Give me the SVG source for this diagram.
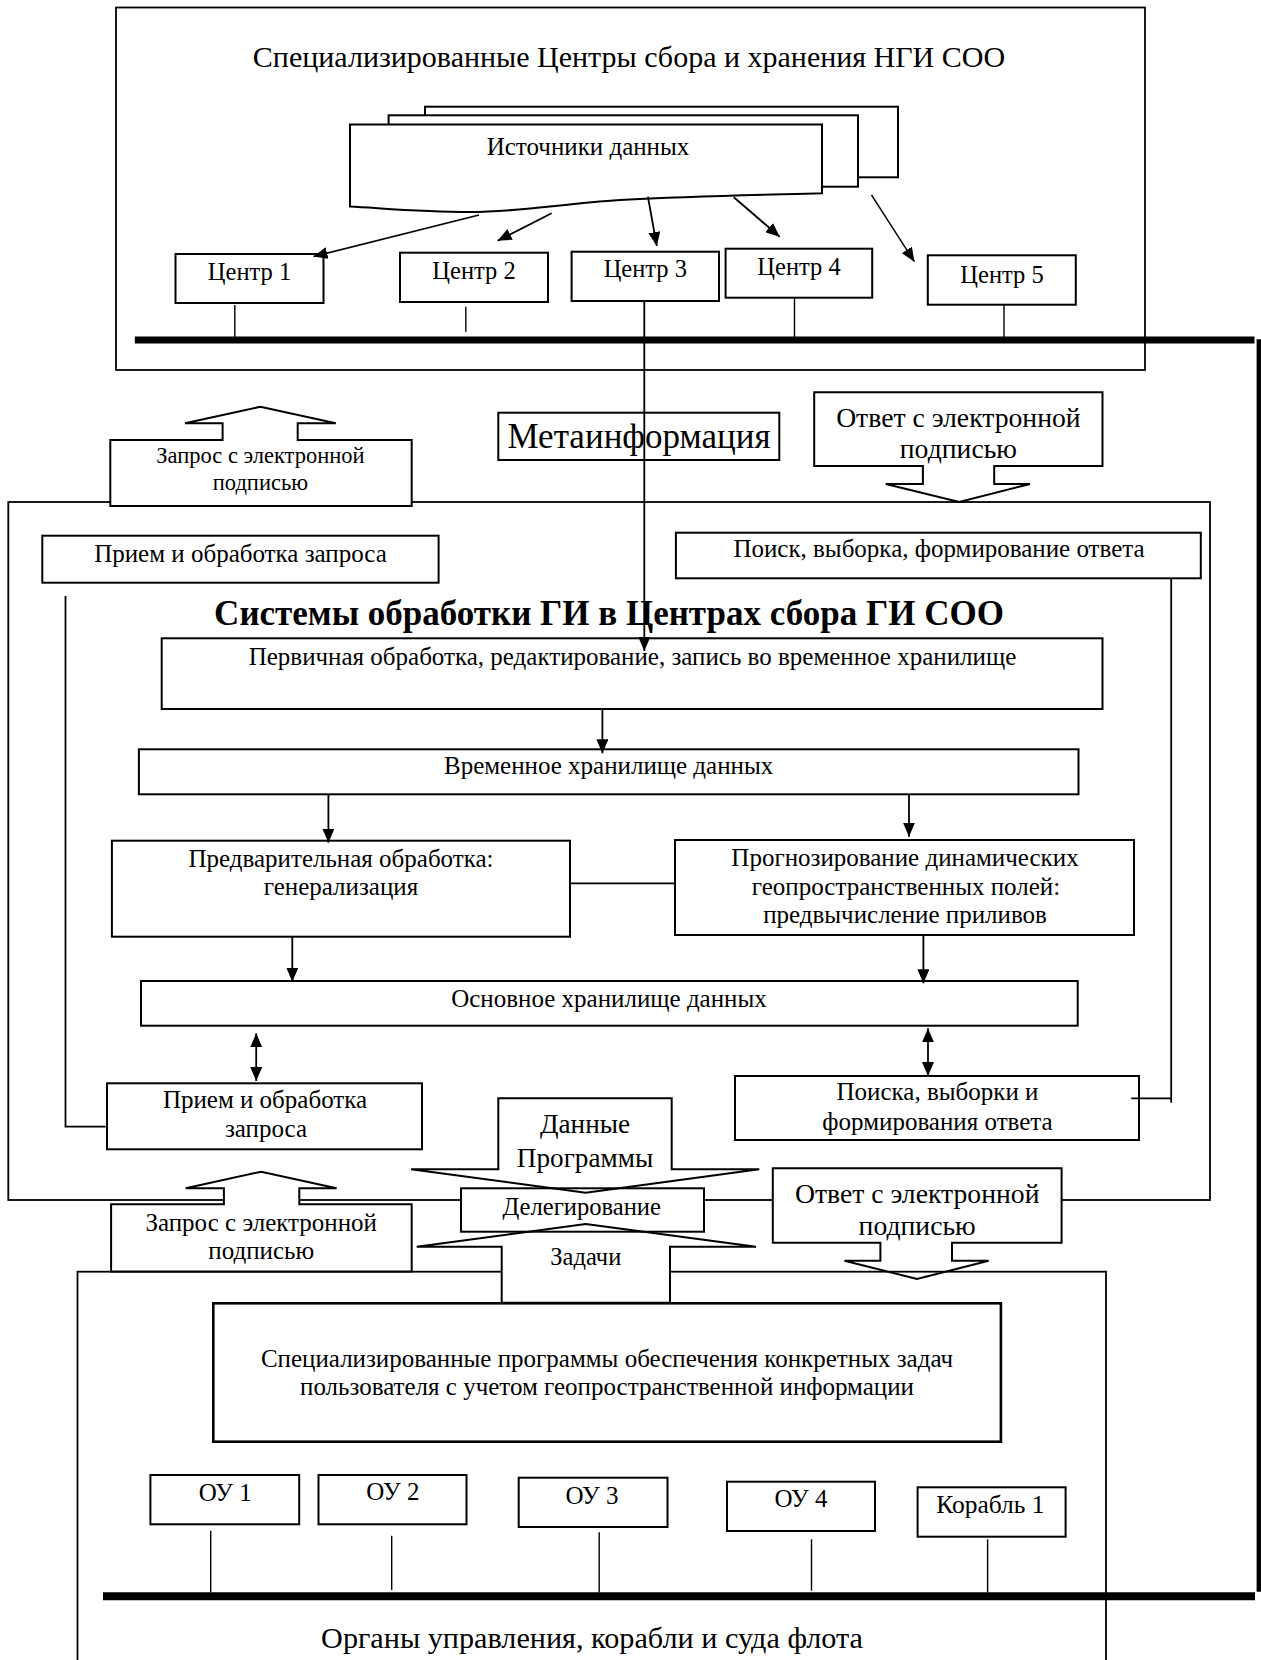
<svg xmlns="http://www.w3.org/2000/svg" width="1261" height="1660" viewBox="0 0 1261 1660">
<style>
text{font-family:"Liberation Serif","Times New Roman",serif;fill:#000;text-anchor:middle}
.box{fill:#fff;stroke:#000;stroke-width:2}
.frame{fill:none;stroke:#000;stroke-width:1.8}
.shape{fill:#fff;stroke:#000;stroke-width:2;stroke-linejoin:miter}
.fillonly{fill:#fff;stroke:none}
.outline{fill:none;stroke:#000;stroke-width:2}
.ln{fill:none;stroke:#000;stroke-width:1.8}
.thin{fill:none;stroke:#000;stroke-width:1.4}
.bus{stroke:#000;fill:none}
.arr{marker-end:url(#ah)}
.dbl{marker-start:url(#ah);marker-end:url(#ah)}
.s25{font-size:25px}
.s24{font-size:24.5px}
.s27{font-size:27.7px}
.s30{font-size:30.2px}
</style>
<defs>
<marker id="ah" markerUnits="userSpaceOnUse" viewBox="0 0 14 12" refX="14" refY="6" markerWidth="14" markerHeight="12" orient="auto-start-reverse">
<path d="M0,0 L14,6 L0,12 Z" fill="#000"/>
</marker>
</defs>

<!-- Top container -->
<g id="top-container">
<rect class="frame" x="116" y="7.5" width="1029" height="362.5"/>
<text class="s30" x="629" y="67" style="font-size:30px">Специализированные Центры сбора и хранения НГИ СОО</text>
</g>

<g id="data-sources">
<rect class="box" x="425" y="106.7" width="473" height="70.6"/>
<rect class="box" x="388.6" y="115.3" width="469.4" height="71.4"/>
<path class="shape" d="M350,124.5 H822 V193.3 C760,195 700,196 620,200 C560,204 520,212 470,212 C420,212 380,208 350,206.5 Z"/>
<text class="s25" x="588" y="155">Источники данных</text>
</g>

<g id="center1"><rect class="box" x="175.5" y="254" width="148" height="49"/><text class="s24" x="249.5" y="280">Центр 1</text></g>
<g id="center2"><rect class="box" x="400" y="252.7" width="148" height="49.3"/><text class="s24" x="474" y="279.3">Центр 2</text></g>
<g id="center3"><rect class="box" x="571.6" y="251.7" width="147.4" height="49.3"/><text class="s24" x="645.3" y="277.3">Центр 3</text></g>
<g id="center4"><rect class="box" x="725.6" y="248.7" width="146.6" height="49"/><text class="s24" x="799" y="275">Центр 4</text></g>
<g id="center5"><rect class="box" x="927.8" y="255.3" width="148" height="49.4"/><text class="s24" x="1002" y="282.7">Центр 5</text></g>

<g id="metainfo"><rect class="box" x="498.3" y="412.7" width="281" height="47.3"/><text x="639" y="448" style="font-size:35px">Метаинформация</text></g>

<!-- Middle container -->
<g id="middle-container">
<rect class="frame" x="8.3" y="502" width="1201.7" height="698"/>
<text x="609" y="625" style="font-size:35px;font-weight:bold">Системы обработки ГИ в Центрах сбора ГИ СОО</text>
</g>

<g id="request-top">
<path class="shape" d="M110.3,440 H222.6 V423.3 H185 L260.4,406.7 L335.8,423.3 H297.7 V440 H411.7 V506 H110.3 Z"/>
<text x="260.4" y="463.3" style="font-size:22.5px">Запрос с электронной</text>
<text x="260.4" y="490" style="font-size:22.5px">подписью</text>
</g>

<g id="response-top">
<path class="shape" d="M814.2,392.3 H1102.5 V466 H994.2 V484 H1030 L959.2,502 L885.8,484 H922.9 V466 H814.2 Z"/>
<text class="s27" x="958.4" y="426.7">Ответ с электронной</text>
<text class="s27" x="958.4" y="458.3">подписью</text>
</g>

<g id="receive-top"><rect class="box" x="42.3" y="535.7" width="396.3" height="47"/><text class="s25" x="240.5" y="561.7">Прием и обработка запроса</text></g>
<g id="search-top"><rect class="box" x="675.9" y="532.7" width="524.9" height="45.6"/><text class="s25" x="939" y="557.3">Поиск, выборка, формирование ответа</text></g>
<g id="primary-processing"><rect class="box" x="161.7" y="638.3" width="940.8" height="70.7"/><text class="s25" x="632.5" y="665">Первичная обработка, редактирование, запись во временное хранилище</text></g>
<g id="temp-storage"><rect class="box" x="138.9" y="749.3" width="939.6" height="45"/><text class="s25" x="608.6" y="774">Временное хранилище данных</text></g>
<g id="preliminary"><rect class="box" x="111.9" y="840.7" width="458.1" height="96"/><text class="s25" x="341" y="866.7">Предварительная обработка:</text><text class="s25" x="341" y="895">генерализация</text></g>
<g id="forecast"><rect class="box" x="675" y="840" width="459" height="95"/><text class="s25" x="905" y="865.7">Прогнозирование динамических</text><text class="s25" x="906" y="895">геопространственных полей:</text><text class="s25" x="905" y="923.3">предвычисление приливов</text></g>
<g id="main-storage"><rect class="box" x="141" y="981" width="936.7" height="44.7"/><text class="s25" x="609" y="1006.7">Основное хранилище данных</text></g>
<g id="receive-bottom"><rect class="box" x="107" y="1083.3" width="315" height="66"/><text class="s25" x="265" y="1108.3">Прием и обработка</text><text class="s25" x="266" y="1137.3">запроса</text></g>
<g id="search-bottom"><rect class="box" x="735" y="1076" width="404" height="64"/><text class="s25" x="937.5" y="1100">Поиска, выборки и</text><text class="s25" x="937.5" y="1130">формирования ответа</text></g>

<g id="response-bottom">
<path class="shape" d="M772.8,1168.3 H1061.6 V1242.7 H952 V1260.7 H988.7 L917,1279 L844.5,1260.7 H880.4 V1242.7 H772.8 Z"/>
<text class="s27" x="917.2" y="1203.3">Ответ с электронной</text>
<text class="s27" x="917.2" y="1235">подписью</text>
</g>

<!-- Lower container -->
<g id="lower-container">
<rect class="frame" x="77.5" y="1271.7" width="1028.5" height="500"/>
<text class="s30" x="592" y="1648.3">Органы управления, корабли и суда флота</text>
</g>

<g id="delegation">
<path class="fillonly" d="M498.3,1098.3 H671.7 V1169.3 H759.3 L585.7,1192.7 L411,1169.3 H498.3 Z"/>
<path class="fillonly" d="M585.7,1224 L756,1246.7 H670 V1302.7 H501.7 V1246.7 H416.7 Z"/>
<rect class="box" x="461" y="1188.3" width="243" height="43.4"/>
<path class="outline" d="M498.3,1098.3 H671.7 V1169.3 H759.3 L585.7,1192.7 L411,1169.3 H498.3 Z"/>
<path class="outline" d="M585.7,1224 L756,1246.7 H670 V1302.7 H501.7 V1246.7 H416.7 Z"/>
<text x="585" y="1133.3" style="font-size:27.2px">Данные</text>
<text x="585" y="1166.7" style="font-size:27.2px">Программы</text>
<text x="581.7" y="1215" style="font-size:24.6px">Делегирование</text>
<text class="s24" x="585.8" y="1265">Задачи</text>
</g>

<g id="request-bottom">
<path class="shape" d="M111.1,1204.3 H223.9 V1188.3 H185.7 L261.2,1171.7 L336.6,1188.3 H299.3 V1204.3 H411.7 V1271.5 H111.1 Z"/>
<text x="261.2" y="1230.7" style="font-size:25px">Запрос с электронной</text>
<text x="261.2" y="1259.3" style="font-size:25px">подписью</text>
</g>

<g id="user-programs">
<rect class="box" x="213.3" y="1303.3" width="787.6" height="138.4" style="stroke-width:2.6"/>
<text class="s25" x="607" y="1366.7">Специализированные программы обеспечения конкретных задач</text>
<text class="s25" x="607" y="1395">пользователя с учетом геопространственной информации</text>
</g>

<g id="ou1"><rect class="box" x="150.4" y="1475" width="148.8" height="49.3"/><text class="s25" x="225.2" y="1500.7">ОУ 1</text></g>
<g id="ou2"><rect class="box" x="318.5" y="1475" width="148" height="49.3"/><text class="s25" x="392.9" y="1500">ОУ 2</text></g>
<g id="ou3"><rect class="box" x="518.7" y="1477.7" width="148.8" height="49.3"/><text class="s25" x="592" y="1504">ОУ 3</text></g>
<g id="ou4"><rect class="box" x="727" y="1481.7" width="148" height="49.3"/><text class="s25" x="801" y="1507.3">ОУ 4</text></g>
<g id="ship1"><rect class="box" x="917.6" y="1487.3" width="148" height="49.4"/><text class="s25" x="990.4" y="1513.3" style="font-size:25.5px">Корабль 1</text></g>

<!-- Connectors -->
<g id="connectors">
<line class="bus" x1="134.8" y1="340" x2="1254.5" y2="340" stroke-width="6.8"/>
<line class="bus" x1="1258.8" y1="339.3" x2="1258.8" y2="1591.7" stroke-width="4.4"/>
<line class="bus" x1="103" y1="1596.3" x2="1255" y2="1596.3" stroke-width="8"/>

<line class="thin" x1="234.8" y1="305" x2="234.8" y2="337"/>
<line class="thin" x1="465.8" y1="306.7" x2="465.8" y2="331.7"/>
<line class="ln arr" x1="644.3" y1="301" x2="644.3" y2="651"/>
<line class="thin" x1="794.5" y1="297.7" x2="794.5" y2="337"/>
<line class="thin" x1="1004" y1="304.7" x2="1004" y2="337"/>

<line class="ln arr" x1="479" y1="215" x2="313.5" y2="256.5"/>
<line class="ln arr" x1="551.6" y1="213.3" x2="497.6" y2="240.7"/>
<line class="ln arr" x1="647.9" y1="196.7" x2="656.8" y2="246"/>
<line class="ln arr" x1="733.8" y1="197.3" x2="779.7" y2="236.7"/>
<line class="thin arr" x1="871.5" y1="195" x2="914.4" y2="261.7"/>

<line class="ln arr" x1="602.4" y1="709" x2="602.4" y2="753.3"/>
<line class="ln arr" x1="328.4" y1="794.3" x2="328.4" y2="842.7"/>
<line class="ln arr" x1="909" y1="794.3" x2="909" y2="836.7"/>
<line class="ln" x1="570" y1="883.3" x2="675" y2="883.3"/>
<line class="ln arr" x1="292.3" y1="936.7" x2="292.3" y2="981.7"/>
<line class="ln arr" x1="923.4" y1="935" x2="923.4" y2="983.3"/>
<line class="ln dbl" x1="256.2" y1="1033.3" x2="256.2" y2="1081"/>
<line class="ln dbl" x1="928" y1="1028.3" x2="928" y2="1076"/>

<polyline class="ln" points="65.5,596 65.5,1126.7 105.7,1126.7"/>
<line class="ln" x1="1171.2" y1="578.3" x2="1171.2" y2="1102.7"/>
<line class="ln" x1="1131.2" y1="1098.3" x2="1171.2" y2="1098.3"/>

<line class="thin" x1="210.7" y1="1530.7" x2="210.7" y2="1592.5"/>
<line class="thin" x1="391.7" y1="1535.7" x2="391.7" y2="1590"/>
<line class="thin" x1="599.2" y1="1532.3" x2="599.2" y2="1592.5"/>
<line class="thin" x1="811.5" y1="1539.3" x2="811.5" y2="1590.7"/>
<line class="thin" x1="987.6" y1="1539.3" x2="987.6" y2="1592.5"/>
</g>
</svg>
